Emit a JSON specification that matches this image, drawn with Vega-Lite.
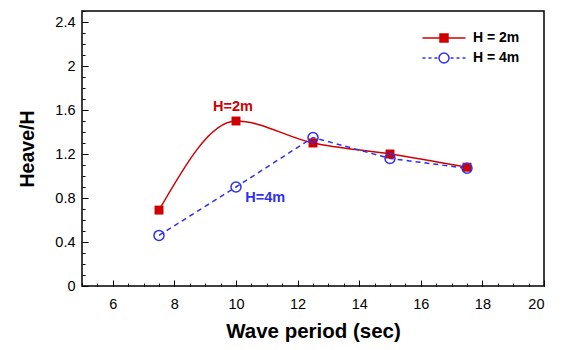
{
  "$schema": "https://vega.github.io/schema/vega-lite/v6.json",
  "width": 462,
  "height": 275,
  "autosize": "none",
  "padding": {"left": 82, "top": 11, "right": 19, "bottom": 64},
  "background": "white",
  "config": {
    "view": {"stroke": "#000", "strokeWidth": 1.5},
    "font": "Liberation Sans",
    "axis": {"grid": false, "labelFont": "Liberation Sans", "titleFont": "Liberation Sans", "labelColor": "#000", "titleColor": "#000", "tickColor": "#000"}
  },
  "datasets": {
    "pts": [
      {"T": 7.5, "v": 0.69, "s": "H = 2m"},
      {"T": 10, "v": 1.5, "s": "H = 2m"},
      {"T": 12.5, "v": 1.3, "s": "H = 2m"},
      {"T": 15, "v": 1.2, "s": "H = 2m"},
      {"T": 17.5, "v": 1.08, "s": "H = 2m"},
      {"T": 7.5, "v": 0.46, "s": "H = 4m"},
      {"T": 10, "v": 0.9, "s": "H = 4m"},
      {"T": 12.5, "v": 1.35, "s": "H = 4m"},
      {"T": 15, "v": 1.16, "s": "H = 4m"},
      {"T": 17.5, "v": 1.07, "s": "H = 4m"}
    ],
    "labels": [
      {"T": 9.9, "v": 1.63, "label": "H=2m", "s": "H = 2m"},
      {"T": 10.95, "v": 0.8, "label": "H=4m", "s": "H = 4m"}
    ]
  },
  "resolve": {"axis": {"x": "independent", "y": "independent"}},
  "layer": [
    {
      "data": {"name": "pts"},
      "transform": [{"filter": "datum.s === 'H = 2m'"}],
      "mark": {"type": "line", "interpolate": "monotone", "color": "#d00000", "strokeWidth": 1.5},
      "encoding": {
        "x": {"field": "T", "type": "quantitative", "scale": {"domain": [5, 20], "nice": false},
          "axis": {"orient": "bottom", "values": [6, 8, 10, 12, 14, 16, 18, 20], "format": "d", "ticks": false, "domain": false, "labelPadding": 11, "labelFontSize": 14.5, "title": "Wave period (sec)", "titleFontSize": 20.5, "titleFontWeight": "bold", "titlePadding": 11}},
        "y": {"field": "v", "type": "quantitative", "scale": {"domain": [0, 2.5], "nice": false},
          "axis": {"orient": "left", "values": [0, 0.4, 0.8, 1.2, 1.6, 2, 2.4], "format": "~g", "ticks": false, "domain": false, "labelPadding": 7, "labelFontSize": 14.5, "title": "Heave/H", "titleFontSize": 19.5, "titleFontWeight": "bold", "titlePadding": 17}}
      }
    },
    {
      "data": {"name": "pts"},
      "transform": [{"filter": "datum.s === 'H = 4m'"}],
      "mark": {"type": "line", "color": "#3030f0", "strokeWidth": 1.5, "strokeDash": [5, 4]},
      "encoding": {
        "x": {"field": "T", "type": "quantitative",
          "axis": {"orient": "bottom", "values": [6, 8, 10, 12, 14, 16, 18, 20], "labels": false, "domain": false, "tickSize": -6, "title": null}},
        "y": {"field": "v", "type": "quantitative",
          "axis": {"orient": "left", "values": [0, 0.4, 0.8, 1.2, 1.6, 2, 2.4], "labels": false, "domain": false, "tickSize": -6, "title": null}}
      }
    },
    {
      "data": {"name": "pts"},
      "transform": [{"filter": "datum.s === 'H = 2m'"}],
      "mark": {"type": "point", "shape": "square", "filled": true, "color": "#d00000", "size": 80, "opacity": 1},
      "encoding": {
        "x": {"field": "T", "type": "quantitative",
          "axis": {"orient": "bottom", "values": [5, 5.5, 6, 6.5, 7, 7.5, 8, 8.5, 9, 9.5, 10, 10.5, 11, 11.5, 12, 12.5, 13, 13.5, 14, 14.5, 15, 15.5, 16, 16.5, 17, 17.5, 18, 18.5, 19, 19.5, 20], "labels": false, "domain": false, "tickSize": -3, "title": null}},
        "y": {"field": "v", "type": "quantitative",
          "axis": {"orient": "left", "values": [0, 0.1, 0.2, 0.3, 0.4, 0.5, 0.6, 0.7, 0.8, 0.9, 1, 1.1, 1.2, 1.3, 1.4, 1.5, 1.6, 1.7, 1.8, 1.9, 2, 2.1, 2.2, 2.3, 2.4, 2.5], "labels": false, "domain": false, "tickSize": -3, "title": null}}
      }
    },
    {
      "data": {"name": "pts"},
      "transform": [{"filter": "datum.s === 'H = 4m'"}],
      "mark": {"type": "point", "shape": "circle", "filled": false, "color": "#3030f0", "size": 100, "strokeWidth": 1.5, "opacity": 1},
      "encoding": {
        "x": {"field": "T", "type": "quantitative", "axis": null},
        "y": {"field": "v", "type": "quantitative", "axis": null}
      }
    },
    {
      "data": {"name": "pts"},
      "transform": [{"filter": "false"}],
      "mark": {"type": "point", "filled": true, "strokeWidth": 1.5, "opacity": 1},
      "encoding": {
        "x": {"field": "T", "type": "quantitative", "axis": null},
        "y": {"field": "v", "type": "quantitative", "axis": null},
        "shape": {"field": "s", "type": "nominal",
          "scale": {"domain": ["H = 2m", "H = 4m"], "range": ["M-4.3,0H4.3M-0.8,-0.8H0.8V0.8H-0.8Z", "M-4.3,0H-3.7M-3.1,0H-2.5M-1.9,0H-1.3M1.3,0H1.9M2.5,0H3.1M3.7,0H4.3M-1,0A1,1,0,1,1,1,0A1,1,0,1,1,-1,0Z"]},
          "legend": {"title": null, "orient": "none", "legendX": 355, "legendY": 20, "padding": 0,
            "labelFont": "Liberation Sans", "labelFontSize": 14, "labelFontWeight": "bold", "labelColor": "#000",
            "labelOffset": 22, "rowPadding": 5, "symbolSize": 100, "symbolStrokeWidth": 1.5, "symbolOpacity": 1}},
        "fill": {"field": "s", "type": "nominal",
          "scale": {"domain": ["H = 2m", "H = 4m"], "range": ["#d00000", "transparent"]},
          "legend": {"title": null, "orient": "none", "legendX": 355, "legendY": 20, "padding": 0,
            "labelFont": "Liberation Sans", "labelFontSize": 14, "labelFontWeight": "bold", "labelColor": "#000",
            "labelOffset": 22, "rowPadding": 5, "symbolSize": 100, "symbolStrokeWidth": 1.5, "symbolOpacity": 1}},
        "stroke": {"field": "s", "type": "nominal",
          "scale": {"domain": ["H = 2m", "H = 4m"], "range": ["#d00000", "#3030f0"]},
          "legend": {"title": null, "orient": "none", "legendX": 355, "legendY": 20, "padding": 0,
            "labelFont": "Liberation Sans", "labelFontSize": 14, "labelFontWeight": "bold", "labelColor": "#000",
            "labelOffset": 22, "rowPadding": 5, "symbolSize": 100, "symbolStrokeWidth": 1.5, "symbolOpacity": 1}}
      }
    },
    {
      "data": {"name": "labels"},
      "mark": {"type": "text", "font": "Liberation Sans", "fontSize": 14.5, "fontWeight": "bold", "align": "center", "baseline": "middle"},
      "encoding": {
        "x": {"field": "T", "type": "quantitative", "axis": null},
        "y": {"field": "v", "type": "quantitative", "axis": null},
        "text": {"field": "label"},
        "color": {"condition": {"test": "datum.s === 'H = 2m'", "value": "#d00000"}, "value": "#3030f0"}
      }
    }
  ]
}
